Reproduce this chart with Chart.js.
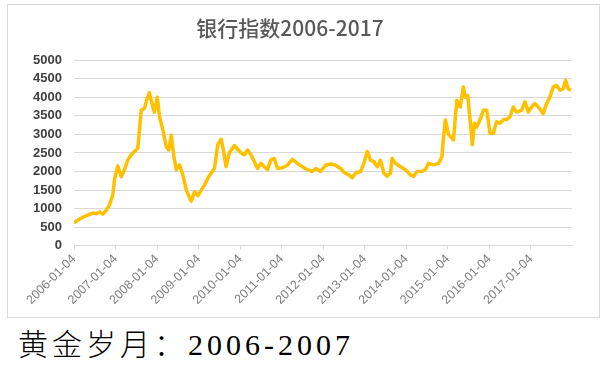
<!DOCTYPE html>
<html>
<head>
<meta charset="utf-8">
<script src="https://cdn.jsdelivr.net/npm/chart.js@4.4.1/dist/chart.umd.min.js"></script>
<style>
  html, body { margin: 0; padding: 0; background: #ffffff; width: 610px; height: 380px; overflow: hidden; }
  #box { position: absolute; left: 7px; top: 4px; width: 591px; height: 312px; border: 1px solid #d9d9d9; background: #fff; }
  #c { display: block; }
  #caption { position: absolute; left: 18px; top: 330px; font-family: "Liberation Serif", "Noto Sans CJK SC", serif; font-size: 30px; font-weight: 300; line-height: 30px; letter-spacing: 4px; color: #000; white-space: nowrap; }
</style>
</head>
<body>
<div id="box"><canvas id="c" width="591" height="312"></canvas></div>
<div id="caption">黄金岁月：2006-2007</div>
<script>
const chartTitle = '银行指数2006-2017';
const tickLabels = ['2006-01-04','2007-01-04','2008-01-04','2009-01-04','2010-01-04','2011-01-04','2012-01-04','2013-01-04','2014-01-04','2015-01-04','2016-01-04','2017-01-04'];
const axisEnd = '2017-12-31';
const yTicks = [0,500,1000,1500,2000,2500,3000,3500,4000,4500,5000];

const dates = [
'2006-01-04','2006-02-22','2006-04-22','2006-06-19','2006-07-18','2006-08-16','2006-09-14','2006-10-14','2006-11-12','2006-12-11',
'2006-12-26','2007-01-24','2007-02-23','2007-03-24','2007-04-22','2007-05-22','2007-06-20','2007-07-19','2007-08-03','2007-08-18',
'2007-09-15','2007-10-05','2007-10-29','2007-11-21','2007-12-11','2008-01-06','2008-01-26','2008-02-24','2008-03-25','2008-04-16',
'2008-05-08','2008-05-31','2008-06-21','2008-07-20','2008-08-18','2008-09-17','2008-10-16','2008-10-31','2008-11-29','2008-12-28',
'2009-01-27','2009-02-25','2009-03-26','2009-04-24','2009-05-23','2009-06-07','2009-06-21','2009-07-21','2009-08-12','2009-09-02',
'2009-10-01','2009-11-14','2009-12-13','2010-01-12','2010-02-10','2010-03-10','2010-04-09','2010-05-08','2010-06-06','2010-07-06',
'2010-08-04','2010-09-02','2010-10-02','2010-10-31','2010-11-29','2011-01-11','2011-02-24','2011-04-08','2011-05-22','2011-07-05',
'2011-08-18','2011-10-01','2011-10-31','2011-12-13','2012-01-26','2012-03-09','2012-04-22','2012-06-05','2012-07-04','2012-08-17',
'2012-09-15','2012-10-15','2012-11-28','2012-12-27','2013-01-25','2013-02-24','2013-03-24','2013-04-22','2013-05-22','2013-06-20',
'2013-07-19','2013-08-18','2013-09-01','2013-10-01','2013-11-14','2013-12-27','2014-02-09','2014-03-10','2014-04-08','2014-05-21',
'2014-06-20','2014-07-19','2014-09-01','2014-10-15','2014-11-13','2014-11-28','2014-12-13','2015-01-10','2015-02-08','2015-02-23',
'2015-03-24','2015-04-23','2015-05-21','2015-06-05','2015-06-28','2015-07-19','2015-08-08','2015-08-26','2015-09-15','2015-10-15',
'2015-11-13','2015-12-12','2016-01-10','2016-02-08','2016-03-08','2016-04-07','2016-05-06','2016-06-04','2016-07-04','2016-08-02',
'2016-08-31','2016-10-14','2016-11-13','2016-12-12','2017-01-09','2017-02-08','2017-03-09','2017-04-22','2017-05-21','2017-06-20',
'2017-07-19','2017-08-17','2017-09-16','2017-10-15','2017-11-04','2017-11-28','2017-12-22'
];
const values = [
620,720,810,880,860,910,850,950,1100,1370,
1780,2150,1860,2050,2310,2450,2540,2630,3120,3650,
3700,3920,4120,3830,3600,4000,3480,3120,2670,2580,
2980,2400,2050,2180,1910,1510,1290,1200,1450,1350,
1500,1640,1820,1960,2090,2400,2720,2870,2540,2130,
2500,2700,2600,2500,2450,2580,2450,2270,2080,2220,
2130,2050,2320,2350,2080,2100,2170,2330,2220,2130,
2050,2000,2080,2000,2170,2200,2170,2080,1980,1910,
1830,1960,2000,2220,2540,2300,2270,2130,2300,1960,
1870,1960,2360,2220,2130,2050,1910,1870,2000,2000,
2050,2220,2180,2220,2400,2940,3390,3000,2900,2850,
3920,3740,4280,4000,4050,3400,2720,3300,3200,3400,
3650,3650,3030,3030,3340,3300,3400,3400,3475,3740,
3600,3650,3880,3600,3740,3830,3740,3560,3830,4010,
4280,4320,4190,4230,4460,4230,4190
];

const DAY = 86400000;
const origin = Date.parse(tickLabels[0]);
const toDay = s => (Date.parse(s) - origin) / DAY;
const points = dates.map((d, i) => ({ x: toDay(d), y: values[i] }));
const tickPos = tickLabels.map(toDay);

new Chart(document.getElementById('c'), {
  type: 'line',
  data: {
    datasets: [{
      data: points,
      borderColor: '#FFC000',
      borderWidth: 3.5,
      pointRadius: 0,
      tension: 0,
      fill: false,
      borderJoinStyle: 'round'
    }]
  },
  options: {
    responsive: false,
    animation: false,
    devicePixelRatio: 1,
    layout: { padding: { left: 0, right: 27, top: 0, bottom: 0 } },
    plugins: {
      legend: { display: false },
      tooltip: { enabled: false },
      title: {
        display: true,
        text: chartTitle,
        color: '#595959',
        font: { family: '"Noto Sans CJK SC", sans-serif', size: 21, weight: '500', lineHeight: 1.2 },
        padding: { top: 10, bottom: 20 }
      }
    },
    scales: {
      x: {
        type: 'linear',
        min: 0,
        max: toDay(axisEnd),
        afterBuildTicks: s => { s.ticks = tickPos.map(v => ({ value: v })); },
        afterFit: s => { s.height = 71.3; },
        grid: { display: true, drawOnChartArea: false, drawTicks: true, tickLength: 4, color: '#d9d9d9' },
        border: { display: true, color: '#d9d9d9' },
        ticks: {
          autoSkip: false,
          minRotation: 45,
          maxRotation: 45,
          padding: 2,
          color: '#808080',
          font: { family: '"Liberation Sans", sans-serif', size: 12.5 },
          callback: (v, i) => tickLabels[i]
        }
      },
      y: {
        min: 0,
        max: 5000,
        afterBuildTicks: s => { s.ticks = yTicks.map(v => ({ value: v })); },
        afterFit: s => { s.width = 66; },
        grid: { color: '#d9d9d9', drawTicks: false },
        border: { display: false },
        ticks: {
          autoSkip: false,
          padding: 12,
          color: '#404040',
          font: { family: '"Liberation Sans", sans-serif', size: 13, weight: 'bold' },
          callback: v => String(v)
        }
      }
    }
  }
});
</script>
</body>
</html>
